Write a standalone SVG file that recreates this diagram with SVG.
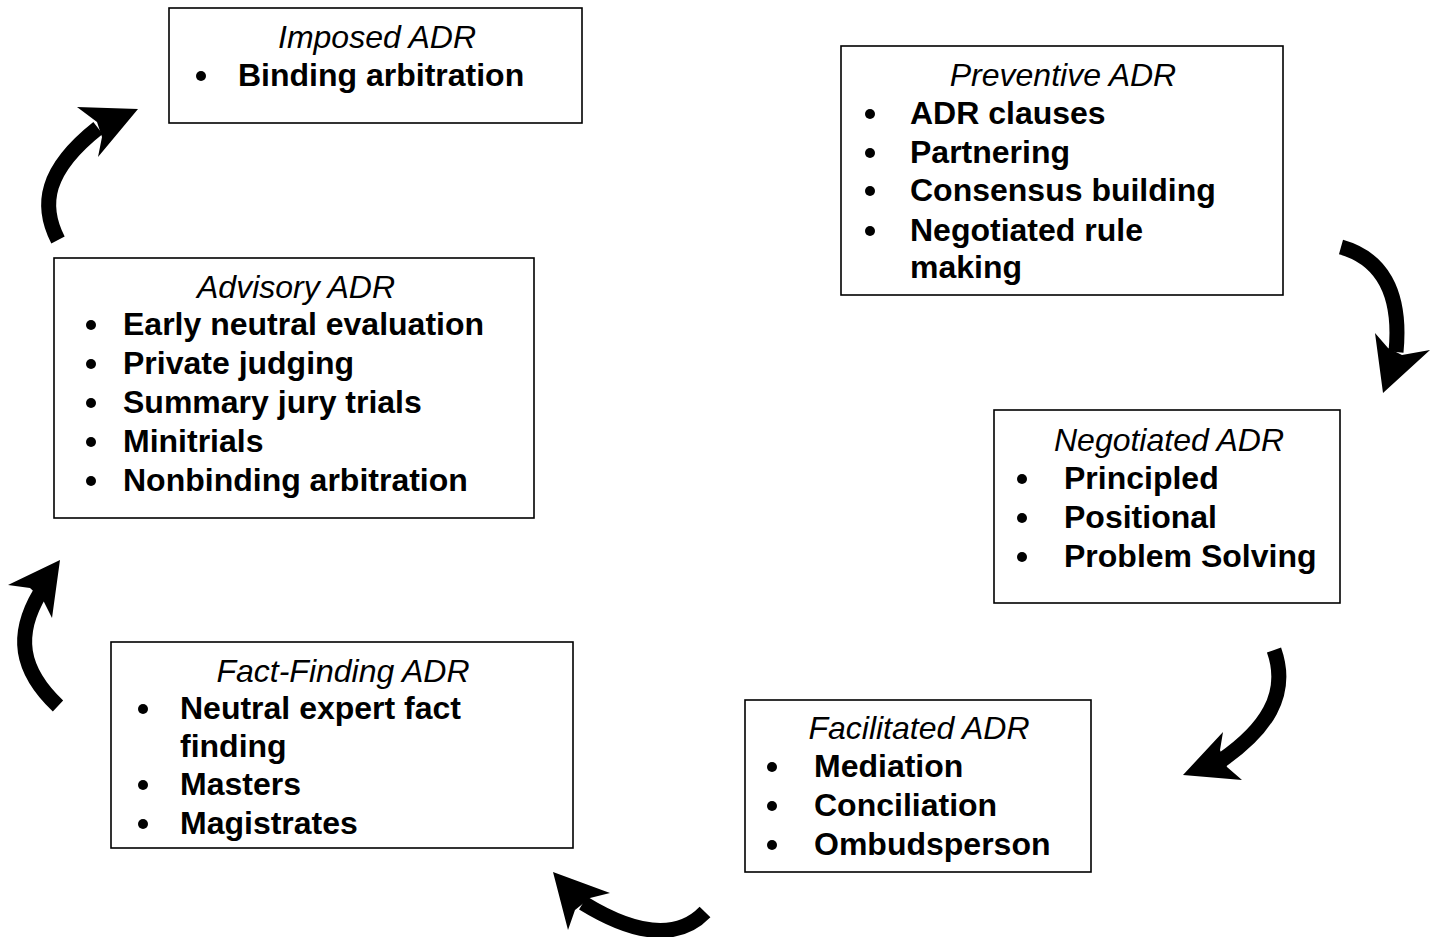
<svg xmlns="http://www.w3.org/2000/svg" width="1431" height="937" viewBox="0 0 1431 937">
  <style>
    .box { fill: #fff; stroke: #000; stroke-width: 1.6; }
    text { font-family: "Liberation Sans", Arial, sans-serif; font-size: 32px; fill: #000; }
    .title { font-style: italic; text-anchor: middle; }
    .item { font-weight: bold; }
    .shaft { fill: none; stroke: #000; stroke-width: 15; }
    .head { fill: #000; stroke: none; }
  </style>
  <rect width="1431" height="937" fill="#fff"/>

  <g id="imposed">
    <rect class="box" x="169" y="8" width="413" height="115"/>
    <text class="title" x="377" y="48">Imposed ADR</text>
    <circle cx="201" cy="76" r="5"/>
    <text class="item" x="238" y="86">Binding arbitration</text>
  </g>

  <g id="preventive">
    <rect class="box" x="841" y="46" width="442" height="249"/>
    <text class="title" x="1063" y="86">Preventive ADR</text>
    <circle cx="870" cy="114" r="5"/>
    <text class="item" x="910" y="124">ADR clauses</text>
    <circle cx="870" cy="153" r="5"/>
    <text class="item" x="910" y="163">Partnering</text>
    <circle cx="870" cy="191" r="5"/>
    <text class="item" x="910" y="201">Consensus building</text>
    <circle cx="870" cy="231" r="5"/>
    <text class="item" x="910" y="241">Negotiated rule</text>
    <text class="item" x="910" y="278">making</text>
  </g>

  <g id="negotiated">
    <rect class="box" x="994" y="410" width="346" height="193"/>
    <text class="title" x="1169" y="451">Negotiated ADR</text>
    <circle cx="1022" cy="479" r="5"/>
    <text class="item" x="1064" y="489">Principled</text>
    <circle cx="1022" cy="518" r="5"/>
    <text class="item" x="1064" y="528">Positional</text>
    <circle cx="1022" cy="557" r="5"/>
    <text class="item" x="1064" y="567">Problem Solving</text>
  </g>

  <g id="facilitated">
    <rect class="box" x="745" y="700" width="346" height="172"/>
    <text class="title" x="919" y="739">Facilitated ADR</text>
    <circle cx="772" cy="767" r="5"/>
    <text class="item" x="814" y="777">Mediation</text>
    <circle cx="772" cy="806" r="5"/>
    <text class="item" x="814" y="816">Conciliation</text>
    <circle cx="772" cy="845" r="5"/>
    <text class="item" x="814" y="855">Ombudsperson</text>
  </g>

  <g id="fact-finding">
    <rect class="box" x="111" y="642" width="462" height="206"/>
    <text class="title" x="343" y="682">Fact-Finding ADR</text>
    <circle cx="143" cy="709" r="5"/>
    <text class="item" x="180" y="719">Neutral expert fact</text>
    <text class="item" x="180" y="757">finding</text>
    <circle cx="143" cy="785" r="5"/>
    <text class="item" x="180" y="795">Masters</text>
    <circle cx="143" cy="824" r="5"/>
    <text class="item" x="180" y="834">Magistrates</text>
  </g>

  <g id="advisory">
    <rect class="box" x="54" y="258" width="480" height="260"/>
    <text class="title" x="296" y="298">Advisory ADR</text>
    <circle cx="91" cy="325" r="5"/>
    <text class="item" x="123" y="335">Early neutral evaluation</text>
    <circle cx="91" cy="364" r="5"/>
    <text class="item" x="123" y="374">Private judging</text>
    <circle cx="91" cy="403" r="5"/>
    <text class="item" x="123" y="413">Summary jury trials</text>
    <circle cx="91" cy="442" r="5"/>
    <text class="item" x="123" y="452">Minitrials</text>
    <circle cx="91" cy="481" r="5"/>
    <text class="item" x="123" y="491">Nonbinding arbitration</text>
  </g>

  <g id="connectors">
    <!-- advisory to imposed -->
    <path class="shaft" d="M58,240 C40,205 45,170 98,128"/>
    <polygon class="head" points="138,109 77,107 97,122 102,137 98,157"/>
    <!-- preventive to negotiated -->
    <path class="shaft" d="M1341,247 C1380,258 1402,290 1396,352"/>
    <polygon class="head" points="1383,393 1375,333 1388,348 1402,355 1430,350"/>
    <!-- negotiated to facilitated -->
    <path class="shaft" d="M1274,650 C1290,695 1265,730 1222,760"/>
    <polygon class="head" points="1183,775 1223,732 1220,750 1227,767 1242,780"/>
    <!-- facilitated to fact-finding -->
    <path class="shaft" d="M705,912 C680,938 640,938 583,903"/>
    <polygon class="head" points="553,872 610,893 590,898 575,910 568,930"/>
    <!-- fact-finding to advisory -->
    <path class="shaft" d="M58,706 C20,670 15,635 40,593"/>
    <polygon class="head" points="60,560 8,585 30,588 43,600 52,618"/>
  </g>
</svg>
